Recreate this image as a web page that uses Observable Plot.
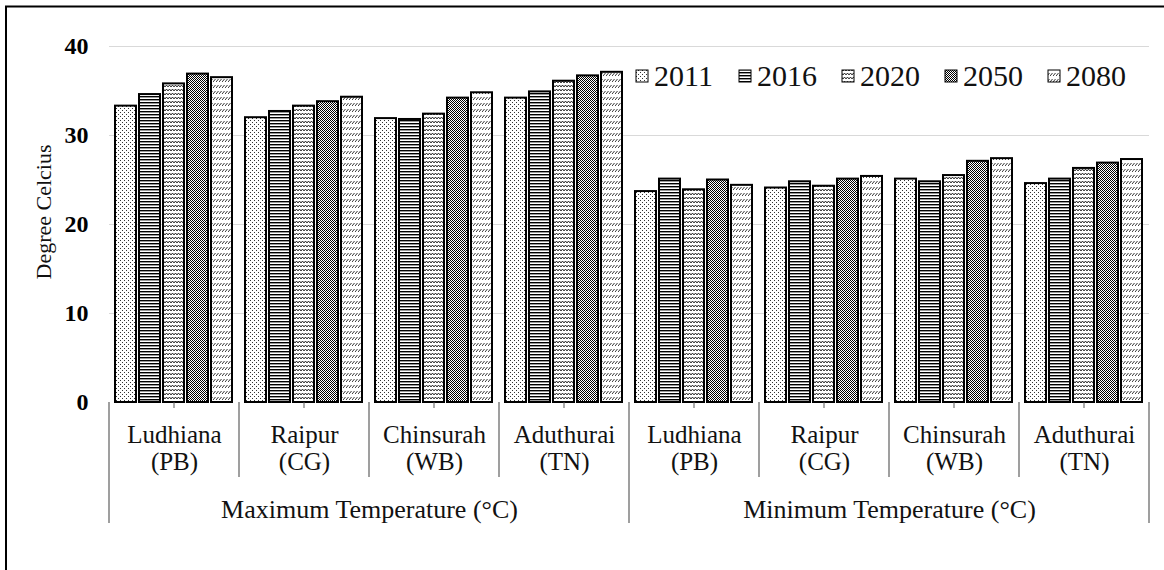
<!DOCTYPE html>
<html>
<head>
<meta charset="utf-8">
<script src="https://cdn.jsdelivr.net/npm/d3@7"></script>
<script src="https://cdn.jsdelivr.net/npm/@observablehq/plot@0.6"></script>
<style>
  body { margin: 0; background: #fff; }
  #chart { width: 1164px; height: 570px; }
  #chart svg text { font-family: 'Liberation Serif', 'Times New Roman', serif; }
</style>
</head>
<body>
<div id="chart"></div>
<script>
// ---- data ----
const years = ["2011", "2016", "2020", "2050", "2080"];
const groups = ["Maximum Temperature (°C)", "Minimum Temperature (°C)"];
const cities = ["Ludhiana", "Raipur", "Chinsurah", "Aduthurai"];
const states = ["(PB)", "(CG)", "(WB)", "(TN)"];
const yTicks = [0, 10, 20, 30, 40];
const yLabel = "Degree Celcius";
// values: Max Ludhiana, Raipur, Chinsurah, Aduthurai, then Min Ludhiana, Raipur, Chinsurah, Aduthurai
const v2011 = [33.3, 32.0, 31.9, 34.2, 23.7, 24.1, 25.1, 24.6];
const v2016 = [34.6, 32.7, 31.8, 34.9, 25.1, 24.8, 24.8, 25.1];
const v2020 = [35.8, 33.3, 32.4, 36.1, 23.9, 24.3, 25.5, 26.3];
const v2050 = [36.9, 33.8, 34.2, 36.7, 25.0, 25.1, 27.1, 26.9];
const v2080 = [36.5, 34.3, 34.8, 37.1, 24.4, 25.4, 27.4, 27.3];
const series = [v2011, v2016, v2020, v2050, v2080];

// ---- tables ----
const keys = [];
const cats = [];
groups.forEach((g, gi) => cities.forEach((c, ci) => {
  const key = `${gi}-${ci}`;
  keys.push(key);
  cats.push({key, gi, ci, label: `${c}\n${states[ci]}`});
}));
const rows = [];
cats.forEach((cat, i) => years.forEach((yr, yi) => {
  rows.push({key: cat.key, year: yr, value: series[yi][i]});
}));
const groupRows = groups.map((g, gi) => ({key: `${gi}-2`, label: g}));

const FONT = "'Liberation Serif', 'Times New Roman', serif";

const plot = Plot.plot({
  width: 1164,
  height: 570,
  marginLeft: 109,
  marginRight: 15,
  marginTop: 46,
  marginBottom: 168,
  style: {fontFamily: FONT, background: "#fff", color: "#000", overflow: "visible"},
  fx: {domain: keys, padding: 0, axis: null},
  x: {domain: years, paddingInner: 0.12, paddingOuter: 0.22, axis: null},
  y: {domain: [0, 40]},
  color: {type: "identity"},
  marks: [
    Plot.gridY(yTicks.filter(d => d > 0), {stroke: "#d9d9d9", strokeOpacity: 1, strokeWidth: 1}),
    Plot.axisY(yTicks, {tickSize: 0, tickPadding: 21, fontSize: 24, fontWeight: "bold", fontFamily: FONT, label: null}),
    Plot.barY(rows, {
      fx: "key", x: "year", y: "value",
      fill: d => `url(#pat${d.year})`,
      stroke: "#000", strokeWidth: 2
    }),
    Plot.text(cats, {
      fx: "key", text: "label", frameAnchor: "bottom", lineAnchor: "top",
      dy: 22, fontSize: 25, lineHeight: 1.06, fill: "#111", fontFamily: FONT
    }),
    Plot.text(groupRows, {
      fx: "key", text: "label", frameAnchor: "bottom-left", textAnchor: "middle",
      lineAnchor: "middle", dy: 107, fontSize: 26, fill: "#111", fontFamily: FONT
    })
  ]
});

const svg = d3.select(plot);

// patterns
const defs = svg.insert("defs", ":first-child");
function pat(id, w, h, draw) {
  const p = defs.append("pattern").attr("id", id)
    .attr("patternUnits", "userSpaceOnUse").attr("width", w).attr("height", h);
  p.append("rect").attr("width", w).attr("height", h).attr("fill", "#fff");
  draw(p);
}
pat("pat2011", 4, 4, p => {
  p.append("rect").attr("x", 0).attr("y", 0).attr("width", 1).attr("height", 1).attr("fill", "#333");
  p.append("rect").attr("x", 2).attr("y", 2).attr("width", 1).attr("height", 1).attr("fill", "#333");
});
pat("pat2016", 4, 3, p => {
  p.append("rect").attr("x", 0).attr("y", 0).attr("width", 4).attr("height", 1.4).attr("fill", "#000");
});
pat("pat2020", 6, 4, p => {
  p.append("path").attr("d", "M0,3 L1.5,1 L3,3 L4.5,1 L6,3")
    .attr("fill", "none").attr("stroke", "#000").attr("stroke-width", 0.8);
});
pat("pat2050", 2, 2, p => {
  p.append("rect").attr("x", 0).attr("y", 0).attr("width", 1).attr("height", 1).attr("fill", "#000");
  p.append("rect").attr("x", 1).attr("y", 1).attr("width", 1).attr("height", 1).attr("fill", "#000");
});
pat("pat2080", 3, 6, p => {
  p.append("path").attr("d", "M0,4 L2.5,1")
    .attr("fill", "none").attr("stroke", "#000").attr("stroke-width", 0.8);
});

// hierarchical category dividers and ticks from the scales
const fx = plot.scale("fx");
const y = plot.scale("y");
const y0 = y.apply(0);
const bw = fx.bandwidth;
const g = svg.append("g");
keys.forEach((k, i) => {
  const left = fx.apply(k);
  g.append("line").attr("x1", left).attr("x2", left).attr("y1", y0)
    .attr("y2", i % cities.length === 0 ? y0 + 121 : y0 + 75)
    .attr("stroke", "#7f7f7f").attr("stroke-width", 1.5);
  g.append("line").attr("x1", left + bw / 2).attr("x2", left + bw / 2)
    .attr("y1", y0).attr("y2", y0 + 6).attr("stroke", "#595959").attr("stroke-width", 1);
});
{
  const right = fx.apply(keys[keys.length - 1]) + bw;
  g.append("line").attr("x1", right).attr("x2", right).attr("y1", y0).attr("y2", y0 + 121)
    .attr("stroke", "#7f7f7f").attr("stroke-width", 1.5);
}

// y-axis title
const yMid = (y.apply(0) + y.apply(40)) / 2 - 12;
svg.append("text")
  .attr("transform", `translate(43,${yMid}) rotate(-90)`)
  .attr("text-anchor", "middle").attr("dominant-baseline", "central")
  .attr("font-family", FONT).attr("font-size", 22).attr("fill", "#111")
  .text(yLabel);

// legend
const lg = svg.append("g").attr("font-family", FONT).attr("font-size", 30)
  .attr("fill", "#111").attr("text-anchor", "start");
years.forEach((yr, i) => {
  const x0 = 636 + i * 103;
  lg.append("rect").attr("x", x0).attr("y", 70).attr("width", 12).attr("height", 12)
    .attr("fill", `url(#pat${yr})`).attr("stroke", "#000").attr("stroke-width", 1);
  lg.append("text").attr("x", x0 + 18).attr("y", 86).text(yr);
});

// outer border (top and left visible)
svg.append("path").attr("d", "M6,570 V6.5 H1164").attr("fill", "none")
  .attr("stroke", "#000").attr("stroke-width", 2);

document.getElementById("chart").appendChild(plot);
</script>
</body>
</html>
